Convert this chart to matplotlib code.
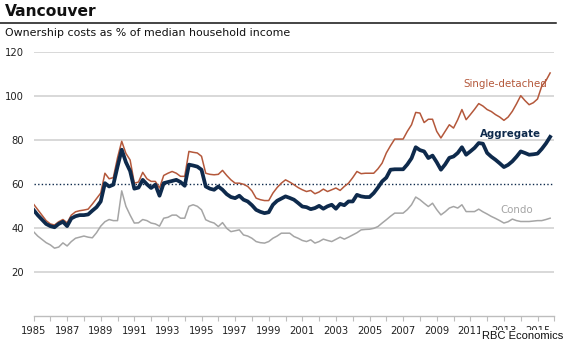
import numpy as np
import matplotlib
matplotlib.use("Agg")
import matplotlib.pyplot as plt

# Quarterly ownership costs as % of median household income, Vancouver
start_year = 1985
aggregate = [
    48.4, 46, 44, 42,
    41, 40.5, 42, 43,
    41, 44.5, 45.5, 46,
    46, 46.3, 48, 49.6,
    52.2, 60.5, 59, 59.8,
    68, 75.7, 70, 66,
    58, 58.5, 62, 60,
    58.3, 59.8, 54.8, 60.5,
    61, 61.5, 62, 61,
    59.3, 68.9, 68.5, 68,
    66.6, 59, 58, 57.5,
    59, 57.5, 55.5, 54.2,
    53.7, 54.8, 53, 52.2,
    50.5, 48.4, 47.5, 46.9,
    47.3, 50.7, 52.5, 53.5,
    54.5, 53.8, 53, 51.5,
    49.9, 49.6, 48.7, 49.2,
    50.2, 48.9, 50, 50.7,
    48.9, 51.1, 50.5, 52.2,
    52.2, 55.2, 54.5, 54.2,
    54.2, 56, 58.5, 61.3,
    63, 66.6, 66.8, 66.8,
    66.8, 69, 71.8, 76.8,
    75.5, 74.9, 71.9, 73,
    70, 66.6, 69, 72,
    72.6, 74.2, 76.8, 73.4,
    74.9, 76.5, 78.7, 78.4,
    74.2, 72.5, 71.1, 69.5,
    67.8, 68.8, 70.4, 72.5,
    74.9, 74.2, 73.4, 73.6,
    73.9, 76, 78.5, 81.5,
]
single_detached = [
    51, 48.5, 46, 43.5,
    42, 41.5, 43, 44,
    42.5, 46, 47.5, 48,
    48.3, 48.7, 51, 53.5,
    56, 65, 62.5, 63,
    72, 79.5, 74, 71,
    60.5, 61, 65.4, 62.5,
    61.3, 61.3, 58.3, 64,
    65, 65.8, 65, 63.6,
    63.6, 74.9, 74.5, 74.2,
    72.7, 65, 64.5, 64.3,
    64.5, 66.3, 64, 62,
    60.5, 60.5, 60, 59,
    57, 53.7, 53, 52.6,
    52.6, 56, 58.5, 60.5,
    62, 61, 59.8, 58.5,
    57.5, 56.7, 57.2, 55.7,
    56.5, 57.8, 56.7, 57.5,
    58.3, 57.2, 59, 60.5,
    63, 65.8, 64.8, 65,
    65, 65, 67, 69.6,
    74.2, 77.5, 80.5, 80.5,
    80.5, 84, 87, 92.6,
    92.3, 88, 89.5, 89.5,
    84, 81, 84, 87,
    85.5, 89.3, 93.9, 89.3,
    91.6, 94, 96.6, 95.5,
    93.9, 93, 91.6, 90.5,
    89, 90.5, 93.1, 96.5,
    100.2, 98, 96.1, 97,
    98.7, 104.5, 107, 110.5,
]
condo = [
    38.5, 36.5, 35, 33.5,
    32.5, 31, 31.5, 33.4,
    32, 34, 35.5, 36,
    36.5, 36, 35.7, 38,
    41, 43, 44, 43.5,
    43.5, 57, 50, 46,
    42.4, 42.5, 44, 43.5,
    42.4, 42, 41, 44.6,
    45, 46, 46, 44.6,
    44.6, 50, 50.7, 50,
    48.4, 43.9, 43, 42.4,
    40.8, 42.6, 40, 38.5,
    38.9, 39.3, 37, 36.5,
    35.5, 34, 33.5, 33.3,
    34, 35.5, 36.5, 37.8,
    37.8, 37.8, 36.3, 35.5,
    34.5, 34, 34.8, 33.3,
    34, 35.1, 34.5, 34,
    35, 36, 35.1, 36,
    37, 38, 39.3, 39.5,
    39.6, 40, 40.8, 42.4,
    43.9, 45.5, 46.9, 46.9,
    46.9, 48.5, 50.7, 54.2,
    53, 51.4, 49.9, 51.4,
    48.5, 46.1, 47.5, 49.2,
    49.9, 49.2, 50.7, 47.6,
    47.6, 47.6, 48.7, 47.5,
    46.5, 45.4, 44.5, 43.5,
    42.4, 43, 44.2, 43.5,
    43.1, 43.1, 43.1, 43.3,
    43.5, 43.5, 44, 44.6,
]
average_level = 60
y_ticks = [20, 40, 60, 80, 100, 120]
x_tick_years = list(range(1985, 2016, 2))

t = start_year + np.arange(len(aggregate)) / 4.0

NAVY = "#0e2a4c"
BROWN = "#b4583b"
GREY = "#a5a5a5"

fig = plt.figure(figsize=(5.70, 3.43), dpi=100)
ax = fig.add_axes([0.0588, 0.0773, 0.9137, 0.771])

# horizontal grid (the 60 level is drawn as a dotted reference instead)
for v in y_ticks:
    if v != average_level:
        ax.axhline(v, color="#d6d6d6", lw=1.3, zorder=0)
ax.axhline(average_level, color=NAVY, lw=1.0, ls=(0, (1, 1.6)), zorder=1)

ax.plot(t, condo, color=GREY, lw=1.1, zorder=2)
ax.plot(t, single_detached, color=BROWN, lw=1.1, zorder=3)
ax.plot(t, aggregate, color=NAVY, lw=2.7, zorder=4, solid_joinstyle="round")

ax.set_xlim(1985, 2016)
ax.set_ylim(0, 120)

for s in ["top", "right", "left"]:
    ax.spines[s].set_visible(False)
ax.spines["bottom"].set_color("#bdbdbd")
ax.spines["bottom"].set_linewidth(1.0)

ax.set_xticks(x_tick_years)
ax.set_xticks(range(1985, 2017), minor=True)
ax.set_xticklabels([str(y) for y in x_tick_years])
ax.tick_params(axis="x", which="both", direction="out", length=3.5, width=0.8,
               color="#bdbdbd", pad=3, labelsize=7.2, labelcolor="#222222")
ax.set_yticks(y_ticks)
ax.set_yticklabels([str(v) for v in y_ticks])
ax.tick_params(axis="y", length=0, pad=7, labelsize=7.2, labelcolor="#222222")

# series labels
ax.text(2015.57, 105.7, "Single-detached", color=BROWN, fontsize=7.4,
        ha="right", va="center")
ax.text(2015.2, 83, "Aggregate", color=NAVY, fontsize=7.4, fontweight="bold",
        ha="right", va="center")
ax.text(2014.73, 48.4, "Condo", color=GREY, fontsize=7.4, ha="right", va="center")

# header
fig.text(0.009, 1 - 12 / 343, "Vancouver", fontsize=11.2, fontweight="bold",
         color="#111111", ha="left", va="center")
fig.add_artist(plt.Line2D([0.0, 0.975], [1 - 23 / 343, 1 - 23 / 343],
                          color="#111111", lw=1.1))
fig.text(0.009, 1 - 33 / 343, "Ownership costs as % of median household income",
         fontsize=7.9, color="#111111", ha="left", va="center")

fig.text(563 / 570, 1 - 336 / 343, "RBC Economics", fontsize=8,
         family="Liberation Sans", color="#111111", ha="right", va="center",
         bbox=dict(facecolor="white", edgecolor="none", pad=1.0))

fig.savefig("out.png", dpi=100)
